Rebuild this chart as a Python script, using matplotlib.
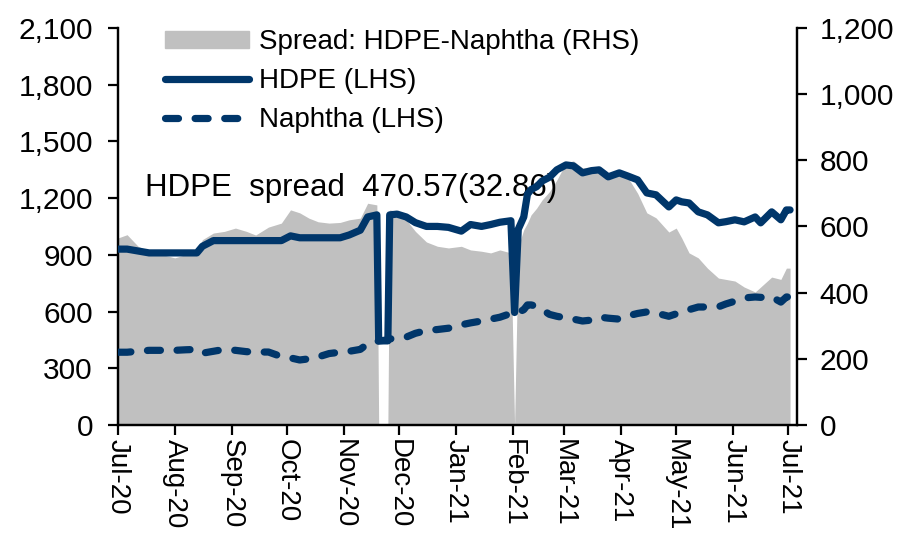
import pandas as pd
import matplotlib
matplotlib.use("Agg")
import matplotlib.pyplot as plt
import matplotlib.dates as mdates
from matplotlib.ticker import StrMethodFormatter, MultipleLocator
from matplotlib.patches import Patch
from matplotlib.lines import Line2D

plt.rcParams['font.family'] = ['Liberation Sans', 'DejaVu Sans']

dates = ["2020-07-01", "2020-07-06", "2020-07-12", "2020-07-18", "2020-07-25",
         "2020-08-01", "2020-08-07", "2020-08-13", "2020-08-16", "2020-08-22",
         "2020-08-28", "2020-09-03", "2020-09-09", "2020-09-14", "2020-09-21",
         "2020-09-28", "2020-10-03", "2020-10-08", "2020-10-13", "2020-10-18",
         "2020-10-24", "2020-10-30", "2020-11-04", "2020-11-10", "2020-11-14",
         "2020-11-19", "2020-11-20", "2020-11-25", "2020-11-26", "2020-11-30",
         "2020-12-05", "2020-12-10", "2020-12-16", "2020-12-22", "2020-12-28",
         "2021-01-04", "2021-01-09", "2021-01-15", "2021-01-20", "2021-01-25",
         "2021-01-31", "2021-02-02", "2021-02-04", "2021-02-07", "2021-02-09",
         "2021-02-11", "2021-02-14", "2021-02-17", "2021-02-21", "2021-02-25",
         "2021-03-02", "2021-03-06", "2021-03-11", "2021-03-16", "2021-03-20",
         "2021-03-25", "2021-03-31", "2021-04-05", "2021-04-10", "2021-04-15",
         "2021-04-20", "2021-04-27", "2021-05-01", "2021-05-04", "2021-05-08",
         "2021-05-13", "2021-05-18", "2021-05-24", "2021-05-28", "2021-06-02",
         "2021-06-07", "2021-06-13", "2021-06-16", "2021-06-22", "2021-06-27",
         "2021-06-30", "2021-07-02"]

# HDPE price (LHS)
hdpe = [930, 930, 920, 910, 910, 910, 910, 910, 945, 975,
        975, 975, 975, 975, 975, 975, 1000, 990, 990, 990,
        990, 990, 1005, 1030, 1100, 1111, 445, 445, 1111, 1115,
        1100, 1070, 1050, 1050, 1045, 1025, 1060, 1050, 1060, 1072,
        1080, 595, 1035, 1100, 1220, 1245, 1260, 1290, 1310, 1349,
        1375, 1370, 1333, 1345, 1349, 1312, 1333, 1315, 1296, 1227,
        1217, 1153, 1190, 1180, 1174, 1127, 1111, 1069, 1075, 1085,
        1074, 1100, 1069, 1127, 1085, 1137, 1137]

# Naphtha price (LHS)
naphtha = [385, 385, 390, 395, 395, 395, 398, 400, 380, 390,
           400, 395, 388, 386, 386, 362, 355, 344, 350, 360,
           378, 385, 390, 400, 430, 440, 445, 450, 455, 460,
           465, 485, 500, 505, 512, 530, 540, 550, 560, 570,
           590, 592, 595, 610, 635, 635, 628, 610, 585, 575,
           566, 560, 550, 555, 571, 565, 560, 578, 590, 598,
           592, 575, 588, 600, 610, 624, 624, 625, 640, 655,
           672, 677, 675, 677, 650, 677, 677]

# Spread HDPE - Naphtha (RHS)
spread = [565, 575, 540, 525, 515, 505, 515, 523, 560, 580,
          585, 595, 585, 574, 598, 610, 650, 641, 625, 614,
          610, 612, 620, 625, 670, 665, 0, 0, 650, 645,
          620, 585, 553, 540, 535, 540, 529, 525, 520, 529,
          520, 0, 540, 590, 610, 635, 655, 680, 705, 740,
          792, 798, 777, 780, 770, 750, 760, 745, 700, 641,
          626, 583, 595, 565, 520, 505, 474, 444, 440, 435,
          417, 402, 417, 447, 440, 474, 474]

x = pd.to_datetime(dates)
navy = '#00366a'
grey = '#c0c0c0'
dash = (0, (1.8, 2.3))
lw = 5.2

fig = plt.figure(figsize=(9, 5.34), dpi=100)
ax_r = fig.add_axes([0.131, 0.204, 0.755, 0.744])
ax_l = ax_r.twinx()

# spread area on the right scale, behind the lines
ax_r.fill_between(x, 0, spread, color=grey, lw=0)
ax_r.set_ylim(0, 1200)
ax_r.yaxis.set_major_locator(MultipleLocator(200))
ax_r.yaxis.set_major_formatter(StrMethodFormatter('{x:,.0f}'))
ax_r.yaxis.tick_right()

ax_l.yaxis.tick_left()
ax_l.plot(x, hdpe, color=navy, lw=lw, solid_capstyle='round', solid_joinstyle='round', zorder=3)
ax_l.plot(x, naphtha, color=navy, lw=lw, linestyle=dash,
          dash_capstyle='round', dash_joinstyle='round', zorder=3)
ax_l.set_ylim(0, 2100)
ax_l.yaxis.set_major_locator(MultipleLocator(300))
ax_l.yaxis.set_major_formatter(StrMethodFormatter('{x:,.0f}'))

ax_l.text(0.04, 0.597, "HDPE  spread  470.57(32.86)", transform=ax_l.transAxes,
          fontsize=22.5, va='center', ha='left', zorder=1)

ax_r.set_xlim(pd.Timestamp("2020-07-01"), pd.Timestamp("2021-07-06"))
ax_r.xaxis.set_major_locator(mdates.MonthLocator())
ax_r.xaxis.set_major_formatter(mdates.DateFormatter('%b-%y'))

for a in (ax_r, ax_l):
    a.spines['top'].set_visible(False)
    for s in a.spines.values():
        s.set_linewidth(1.6)
    a.tick_params(labelsize=21.5, width=1.6, length=7, direction='out')
ax_l.tick_params(axis='y', pad=11)
ax_r.tick_params(axis='y', pad=9)
ax_r.tick_params(axis='x', labelrotation=270, labelsize=20, pad=3)
for lbl in ax_r.get_xticklabels():
    lbl.set_va('top')
    lbl.set_ha('center')

handles = [Patch(color=grey, label='Spread: HDPE-Naphtha (RHS)'),
           Line2D([], [], color=navy, lw=lw, solid_capstyle='round', label='HDPE (LHS)'),
           Line2D([], [], color=navy, lw=lw, linestyle=dash,
                  dash_capstyle='round', label='Naphtha (LHS)')]
fig.legend(handles=handles, loc='upper left', bbox_to_anchor=(0.183, 0.945),
           frameon=False, fontsize=20, handlelength=3.05, handleheight=0.6,
           handletextpad=0.36, labelspacing=0.47, borderpad=0, borderaxespad=0)

fig.savefig('out.png', dpi=100)
